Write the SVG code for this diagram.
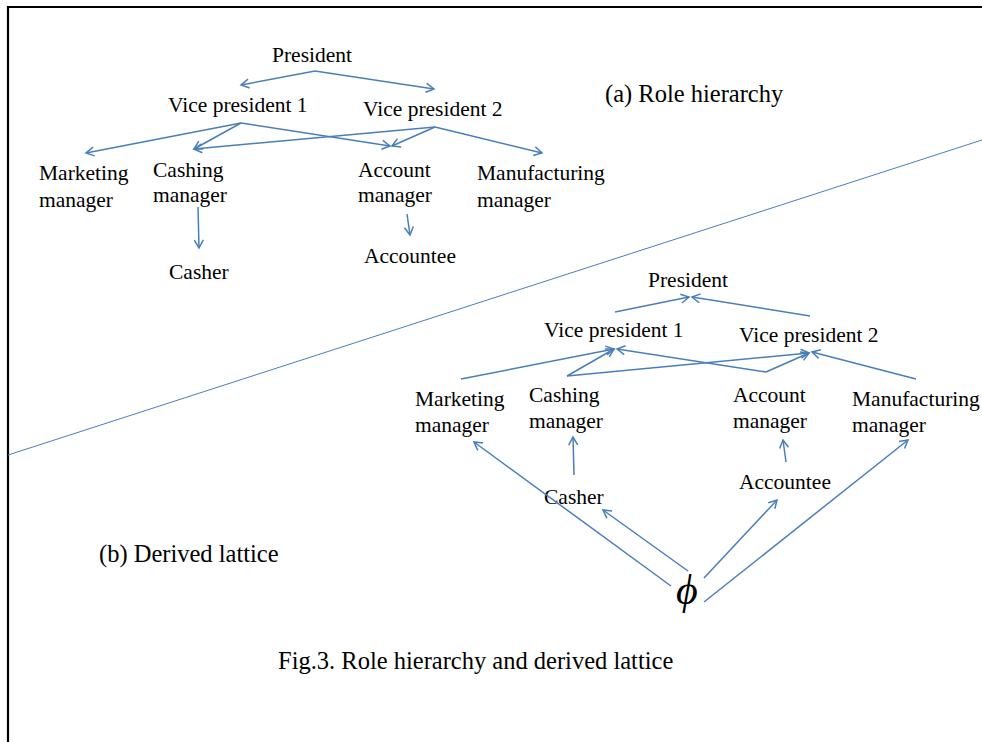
<svg xmlns="http://www.w3.org/2000/svg" width="982" height="742" viewBox="0 0 982 742">
<style>
text{font-family:"Liberation Serif","Times New Roman",serif;fill:#000}
.n{font-size:21.5px}
.lbl{font-size:24.5px}
.phi{font-size:42px;font-style:italic}
.c line{stroke:#4a7ebb;stroke-width:1.5;fill:none;marker-end:url(#ah)}
.frame{stroke:#000;stroke-width:2.2;fill:none}
</style>
<defs>
<marker id="ah" viewBox="-9 -6 11 12" refX="0" refY="0" markerWidth="11" markerHeight="12" markerUnits="userSpaceOnUse" orient="auto">
<path d="M-8,-4.5 L0,0 L-8,4.5" fill="none" stroke="#4a7ebb" stroke-width="1.5"/>
</marker>
</defs>
<rect width="982" height="742" fill="#fff"/>
<path class="frame" d="M8,742 L8,7 L982,7"/>
<line x1="982" y1="140" x2="8" y2="455" stroke="#4a7ebb" stroke-width="1"/>

<!-- (a) Role hierarchy -->
<g id="a-president"><text class="n" x="272" y="62">President</text></g>
<g id="a-vp1"><text class="n" x="168" y="112">Vice president 1</text></g>
<g id="a-vp2"><text class="n" x="363" y="116">Vice president 2</text></g>
<g id="a-marketing"><text class="n" x="39" y="180">Marketing</text><text class="n" x="39" y="207">manager</text></g>
<g id="a-cashing"><text class="n" x="153" y="177">Cashing</text><text class="n" x="153" y="202">manager</text></g>
<g id="a-account"><text class="n" x="358" y="177">Account</text><text class="n" x="358" y="202">manager</text></g>
<g id="a-manufacturing"><text class="n" x="477" y="180">Manufacturing</text><text class="n" x="477" y="207">manager</text></g>
<g id="a-casher"><text class="n" x="169" y="279">Casher</text></g>
<g id="a-accountee"><text class="n" x="364" y="263">Accountee</text></g>
<g id="label-a"><text class="lbl" x="605" y="102">(a) Role hierarchy</text></g>

<!-- (b) Derived lattice -->
<g id="b-president"><text class="n" x="648" y="287">President</text></g>
<g id="b-vp1"><text class="n" x="544" y="337">Vice president 1</text></g>
<g id="b-vp2"><text class="n" x="739" y="342">Vice president 2</text></g>
<g id="b-marketing"><text class="n" x="415" y="406">Marketing</text><text class="n" x="415" y="432">manager</text></g>
<g id="b-cashing"><text class="n" x="529" y="402">Cashing</text><text class="n" x="529" y="428">manager</text></g>
<g id="b-account"><text class="n" x="733" y="402">Account</text><text class="n" x="733" y="428">manager</text></g>
<g id="b-manufacturing"><text class="n" x="852" y="406">Manufacturing</text><text class="n" x="852" y="432">manager</text></g>
<g id="b-casher"><text class="n" x="544" y="504">Casher</text></g>
<g id="b-accountee"><text class="n" x="739" y="489">Accountee</text></g>
<g id="b-empty"><text class="phi" x="676" y="604">ϕ</text></g>
<g id="label-b"><text class="lbl" x="99" y="562">(b) Derived lattice</text></g>
<g id="caption"><text class="lbl" x="278" y="669">Fig.3. Role hierarchy and derived lattice</text></g>

<g id="connectors" class="c">
<!-- (a) -->
<line x1="315" y1="71" x2="241" y2="85"/>
<line x1="315" y1="71" x2="434" y2="89"/>
<line x1="241" y1="123" x2="86" y2="153"/>
<line x1="241" y1="123" x2="194" y2="149"/>
<line x1="241" y1="123" x2="390" y2="146"/>
<line x1="435" y1="127" x2="194" y2="149"/>
<line x1="435" y1="127" x2="392" y2="146"/>
<line x1="435" y1="127" x2="542" y2="153"/>
<line x1="198" y1="207" x2="199" y2="248"/>
<line x1="407" y1="214" x2="410" y2="235"/>
<!-- (b) -->
<line x1="615" y1="312" x2="689" y2="297"/>
<line x1="810" y1="316" x2="692" y2="297"/>
<line x1="461" y1="379" x2="614" y2="349"/>
<line x1="567" y1="376" x2="614" y2="349"/>
<line x1="567" y1="376" x2="809" y2="353"/>
<line x1="766" y1="372" x2="617" y2="349"/>
<line x1="766" y1="372" x2="809" y2="353"/>
<line x1="916" y1="379" x2="812" y2="352"/>
<line x1="671" y1="586" x2="474" y2="442"/>
<line x1="574" y1="475" x2="573" y2="437"/>
<line x1="688" y1="571" x2="603" y2="510"/>
<line x1="704" y1="578" x2="777" y2="500"/>
<line x1="786" y1="462" x2="783" y2="440"/>
<line x1="704" y1="602" x2="908" y2="440"/>
</g>
</svg>
